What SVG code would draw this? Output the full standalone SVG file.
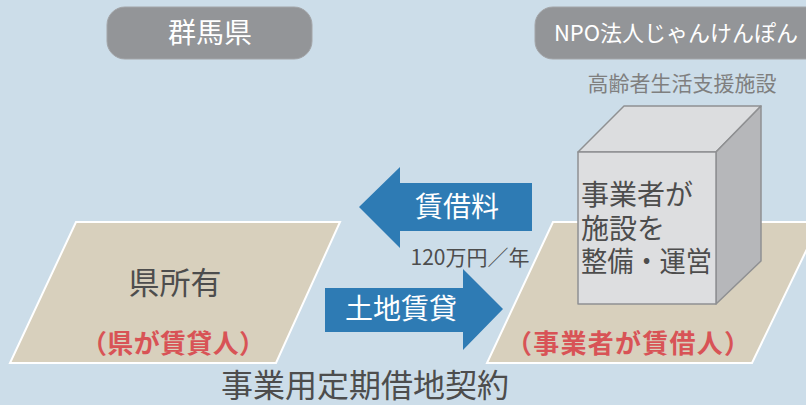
<svg xmlns="http://www.w3.org/2000/svg" width="806" height="405" viewBox="0 0 806 405">
  <style>
    text { font-family: "Noto Sans CJK JP", "Noto Sans", sans-serif; }
    .pill { fill: #939598; stroke: #a3a5a8; stroke-width: 1; }
    .pill-text { fill: #ffffff; text-anchor: middle; }
    .land { fill: #d8d0bd; stroke: #ffffff; stroke-width: 2; }
    .dark { fill: #4d4d4d; }
    .red { fill: #d85356; font-weight: bold; text-anchor: middle; }
    .arrow { fill: #2e7bb4; }
    .arrow-text { fill: #ffffff; text-anchor: middle; }
    .box { stroke: #8f9092; stroke-width: 1.5; stroke-linejoin: round; }
  </style>
  <rect width="806" height="405" fill="#ccdde9"/>

  <g id="gunma">
    <rect class="pill" x="107" y="7" width="205" height="52" rx="18"/>
    <text class="pill-text" x="210" y="43" font-size="28">群馬県</text>
  </g>

  <g id="npo">
    <rect class="pill" x="535" y="7" width="290" height="52" rx="18"/>
    <text class="pill-text" x="676" y="41" font-size="22">NPO法人じゃんけんぽん</text>
    <text x="682" y="91" font-size="21" fill="#7f7f7f" text-anchor="middle">高齢者生活支援施設</text>
  </g>

  <g id="prefLand">
    <polygon class="land" points="76,222 340,222 276,363 10,363"/>
    <text class="dark" x="175" y="294" font-size="31" text-anchor="middle">県所有</text>
    <text class="red" x="173" y="353" font-size="26" textLength="184" lengthAdjust="spacing">（県が賃貸人）</text>
  </g>

  <g id="operatorLand">
    <polygon class="land" points="553,222 820,222 752,363 487,363"/>
    <text class="red" x="628" y="353" font-size="26" textLength="244" lengthAdjust="spacing">（事業者が賃借人）</text>
  </g>

  <g id="facility">
    <polygon class="box" fill="#dcdddf" points="578,152 624,106 761,106 716,152"/>
    <polygon class="box" fill="#b6b7ba" points="716,152 761,106 761,261 716,304"/>
    <rect class="box" fill="#dddee0" x="578" y="152" width="138" height="152"/>
    <text class="dark" font-size="28">
      <tspan x="581" y="205">事業者が</tspan>
      <tspan x="581" y="239">施設を</tspan>
      <tspan x="581" y="272" textLength="131" lengthAdjust="spacingAndGlyphs">整備・運営</tspan>
    </text>
  </g>

  <g id="connectors">
    <g id="rentArrow">
      <polygon class="arrow" points="359,207 400,167 400,183 532,183 532,231 400,231 400,248"/>
      <text class="arrow-text" x="457" y="217" font-size="28">賃借料</text>
      <text class="dark" x="470" y="265" font-size="21" text-anchor="middle">120万円／年</text>
    </g>
    <g id="leaseArrow">
      <polygon class="arrow" points="325,288 463,288 463,269 503,309 463,350 463,332 325,332"/>
      <text class="arrow-text" x="401" y="319" font-size="28">土地賃貸</text>
    </g>
  </g>

  <text class="dark" x="365" y="397" font-size="32" text-anchor="middle">事業用定期借地契約</text>
</svg>
